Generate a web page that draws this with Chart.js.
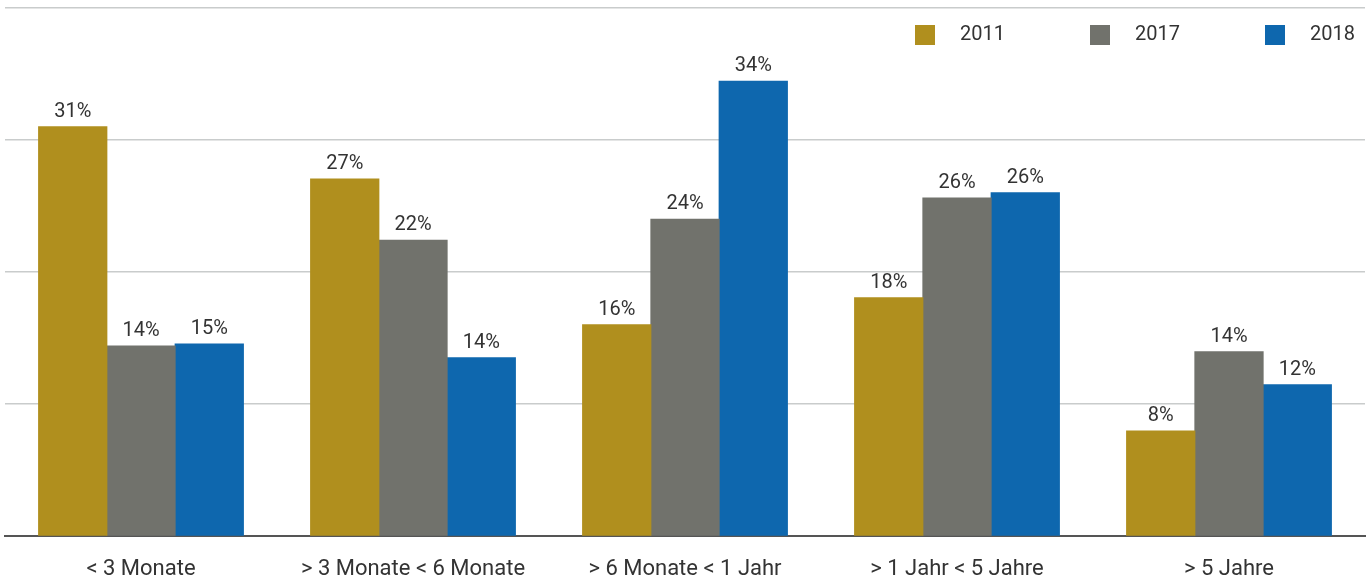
<!DOCTYPE html>
<html>
<head>
<meta charset="utf-8">
<script src="https://cdn.jsdelivr.net/npm/chart.js@4"></script>
<style>
    html, body { margin: 0; padding: 0; background: #fff; }
    #wrap { position: relative; width: 1368px; height: 577px; }
</style>
</head>
<body>
<div id="wrap"><canvas id="myChart"></canvas></div>
<script>
const categories = ["< 3 Monate", "> 3 Monate < 6 Monate", "> 6 Monate < 1 Jahr", "> 1 Jahr < 5 Jahre", "> 5 Jahre"];
const years = ["2011", "2017", "2018"];

// bar heights (percent)
const values2011 = [31.0, 27.05, 16.0, 18.05, 7.95];
const values2017 = [14.4, 22.4, 24.0, 25.6, 13.95];
const values2018 = [14.55, 13.5, 34.45, 26.0, 11.45];

// printed labels
const labels2011 = ["31%", "27%", "16%", "18%", "8%"];
const labels2017 = ["14%", "22%", "24%", "26%", "14%"];
const labels2018 = ["15%", "14%", "34%", "26%", "12%"];

const yTicks = [0, 10, 20, 30, 40];

const colors = ["rgb(176 143 30)", "rgb(113 114 108)", "rgb(14 103 174)"];

window.onload = () => {
    addChart();
}

const barLabels = {
    id: "barLabels",
    afterDatasetsDraw(chart) {
        const ctx = chart.ctx;
        const all = [labels2011, labels2017, labels2018];
        ctx.save();
        ctx.font = "20px Roboto";
        ctx.fillStyle = "#333";
        ctx.textAlign = "center";
        ctx.textBaseline = "bottom";
        chart.data.datasets.forEach((ds, i) => {
            chart.getDatasetMeta(i).data.forEach((bar, j) => {
                ctx.fillText(all[i][j], bar.x, bar.y - 5);
            });
        });
        ctx.restore();
    }
}

const topLegend = {
    id: "topLegend",
    afterDraw(chart) {
        const ctx = chart.ctx;
        ctx.save();
        ctx.font = "20px Roboto";
        ctx.textBaseline = "middle";
        chart.data.datasets.forEach((ds, i) => {
            const x = 915 + i * 175;
            ctx.fillStyle = ds.backgroundColor;
            ctx.fillRect(x, 25, 20, 20);
            ctx.fillStyle = "#333";
            ctx.fillText(ds.label, x + 45, 35);
        });
        ctx.restore();
    }
}

function addChart() {
    const data = {
        labels: categories,
        datasets: [values2011, values2017, values2018].map((v, i) => ({
            label: years[i],
            data: v,
            backgroundColor: colors[i],
            borderWidth: 0,
            inflateAmount: 0.5,
            categoryPercentage: 0.753,
            barPercentage: 1.0
        }))
    }

    const config = {
        type: "bar",
        data: data,
        options: {
            responsive: true,
            maintainAspectRatio: false,
            animation: false,
            layout: {
                padding: { left: 5, right: 3, top: 8, bottom: 0 }
            },
            plugins: {
                legend: { display: false },
                tooltip: { enabled: false }
            },
            scales: {
                x: {
                    grid: { display: false, drawTicks: false },
                    border: { display: true, color: "#555", width: 2 },
                    ticks: {
                        color: "#333",
                        font: { family: "Roboto", size: 22 },
                        padding: 20,
                        maxRotation: 0
                    },
                    afterFit: axis => {
                        axis.height = 41;
                    }
                },
                y: {
                    min: 0,
                    max: 40,
                    afterBuildTicks: axis => {
                        axis.ticks = yTicks.map(v => ({ value: v }));
                    },
                    ticks: { display: false },
                    border: { display: false },
                    grid: {
                        color: "#c9cccc",
                        lineWidth: 1.5,
                        drawTicks: false
                    }
                }
            }
        },
        plugins: [barLabels, topLegend]
    }

    const ctx = document.getElementById('myChart').getContext('2d');
    const myChart = new Chart(ctx, config);
}
</script>
</body>
</html>
